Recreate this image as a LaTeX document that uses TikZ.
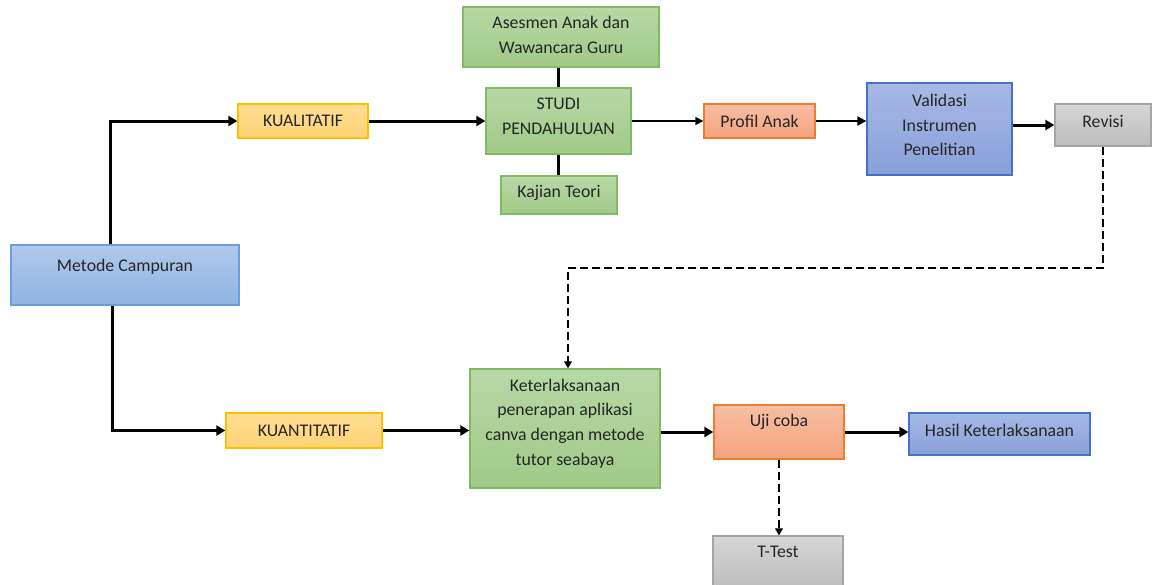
\documentclass[tikz,border=0pt]{standalone}
\usepackage{fontspec}
\setmainfont{Carlito}
\usetikzlibrary{arrows.meta,calc}
\definecolor{txt}{HTML}{262626}
\tikzset{
  box/.style={shade, draw, line width=1.3pt, inner sep=0pt},
  bluebox/.style={box, top color={rgb,255:red,176;green,201;blue,236}, bottom color={rgb,255:red,143;green,180;blue,226}, draw={rgb,255:red,109;green,158;blue,220}},
  yelbox/.style={box, top color={rgb,255:red,255;green,222;blue,146}, bottom color={rgb,255:red,255;green,211;blue,120}, draw={rgb,255:red,255;green,192;blue,0}},
  grnbox/.style={box, top color={rgb,255:red,184;green,216;blue,166}, bottom color={rgb,255:red,160;green,202;blue,136}, draw={rgb,255:red,130;green,186;blue,100}},
  orgbox/.style={box, top color={rgb,255:red,248;green,190;blue,164}, bottom color={rgb,255:red,244;green,163;blue,125}, draw={rgb,255:red,237;green,125;blue,49}},
  purbox/.style={box, top color={rgb,255:red,168;green,184;blue,230}, bottom color={rgb,255:red,136;green,160;blue,216}, draw={rgb,255:red,68;green,114;blue,196}},
  graybox/.style={box, top color={rgb,255:red,214;green,214;blue,214}, bottom color={rgb,255:red,188;green,188;blue,188}, draw={rgb,255:red,165;green,165;blue,165}},
  lbl/.style={text=txt, align=center, inner sep=0pt, font=\fontsize{17.8}{24.8}\selectfont},
  conn/.style={line width=3pt, -{Triangle[length=9pt,width=10pt]}},
  plain/.style={line width=3pt},
  dashconn/.style={line width=1.2pt, dash pattern=on 8pt off 4pt, -{Triangle[length=7pt,width=8pt]}},
}
\begin{document}
\begin{tikzpicture}[x=1pt,y=-1pt]
\useasboundingbox (0,0) rectangle (1157,584);
\fill[white] (0,0) rectangle (1157,584);
% boxes
\node[bluebox, minimum width=228pt, minimum height=60pt, label={[lbl, name=metodeT, yshift=8pt]center:Metode Campuran}] (metode) at (125,275) {};
\node[yelbox, minimum width=130pt, minimum height=34pt, label={[lbl, name=kualT]center:KUALITATIF}] (kual) at (303,121) {};
\node[grnbox, minimum width=196pt, minimum height=60pt, label={[lbl, name=asesT, yshift=2pt]center:Asesmen Anak dan\\Wawancara Guru}] (ases) at (561,37) {};
\node[grnbox, minimum width=145pt, minimum height=66pt, label={[lbl, name=studiT, yshift=5pt]center:STUDI\\PENDAHULUAN}] (studi) at (558.5,121) {};
\node[grnbox, minimum width=116pt, minimum height=38pt, label={[lbl, name=kajianT, yshift=2pt]center:Kajian Teori}] (kajian) at (559,195) {};
\node[orgbox, minimum width=111pt, minimum height=34pt, label={[lbl, name=profilT]center:Profil Anak}] (profil) at (759.5,121) {};
\node[purbox, minimum width=145pt, minimum height=92pt, label={[lbl, name=validT, yshift=4pt]center:Validasi\\Instrumen\\Penelitian}] (valid) at (939.5,129) {};
\node[graybox, minimum width=96pt, minimum height=42pt, label={[lbl, name=revisiT, yshift=4pt]center:Revisi}] (revisi) at (1103,125) {};
\node[yelbox, minimum width=156pt, minimum height=35pt, label={[lbl, name=kuanT]center:KUANTITATIF}] (kuan) at (304,430.5) {};
\node[grnbox, minimum width=190pt, minimum height=119pt, label={[lbl, name=ketT, yshift=5pt]center:Keterlaksanaan\\penerapan aplikasi\\canva dengan metode\\tutor seabaya}] (ket) at (565,428.5) {};
\node[orgbox, minimum width=130pt, minimum height=54pt, label={[lbl, name=ujiT, yshift=10pt]center:Uji coba}] (uji) at (779,432) {};
\node[purbox, minimum width=181pt, minimum height=42pt, label={[lbl, name=hasilT, yshift=4pt]center:Hasil Keterlaksanaan}] (hasil) at (999.5,434) {};
\node[graybox, minimum width=130pt, minimum height=54pt, label={[lbl, name=ttestT, yshift=11pt]center:T-Test}] (ttest) at (778,563) {};
% connectors
\draw[conn] ([xshift=-15pt]metode.north) |- (kual.west);
\draw[conn] ([xshift=-13pt]metode.south) |- (kuan.west);
\draw[conn] (kual.east) -- (studi.west);
\draw[plain] (ases.south -| studi.north) -- (studi.north);
\draw[plain] (studi.south) -- (studi.south |- kajian.north);
\draw[line width=1.4pt, -{Triangle[length=8pt,width=8pt]}] (studi.east) -- (profil.west);
\draw[line width=2pt, -{Triangle[length=9pt,width=9pt]}] (profil.east) -- (valid.west |- profil.east);
\draw[conn] (valid.east |- revisi.west) -- (revisi.west);
\coordinate (turn) at (1105,268);
\draw[dashconn] (revisi.south) -- (revisi.south |- turn) -| ([xshift=3pt]ket.north);
\draw[conn] (kuan.east) -- (ket.west |- kuan.east);
\draw[conn] (ket.east |- uji.west) -- (uji.west);
\draw[conn] (uji.east) -- (hasil.west |- uji.east);
\draw[dashconn] (uji.south) -- (uji.south |- ttest.north);
\end{tikzpicture}
\end{document}
